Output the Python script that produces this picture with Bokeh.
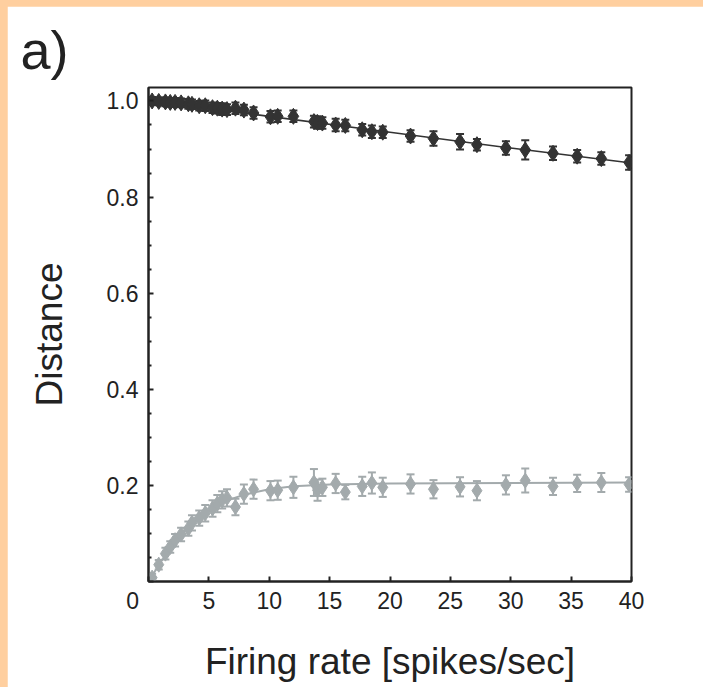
from bokeh.plotting import figure
from bokeh.models import ColumnDataSource, Whisker, TeeHead, Range1d, FixedTicker, GlobalInlineStyleSheet
from bokeh.embed import file_html
from bokeh.resources import INLINE

# ---- data ----
rate = [0.3, 0.85, 1.4, 1.8, 2.2, 2.7, 3.3, 3.6, 4.2, 4.7, 5.3, 5.7, 6.1, 6.5, 7.2, 7.9, 8.7,
        10.1, 10.7, 12.0, 13.7, 14.0, 14.4, 15.5, 16.3, 17.7, 18.5, 19.4, 21.7, 23.6, 25.8,
        27.2, 29.6, 31.2, 33.5, 35.5, 37.5, 39.8]
upper_y = [1.0, 0.999, 0.998, 0.997, 0.997, 0.996, 0.994, 0.993, 0.99, 0.99, 0.986, 0.985,
           0.983, 0.982, 0.985, 0.981, 0.975, 0.967, 0.968, 0.968, 0.957, 0.955, 0.954, 0.95,
           0.949, 0.94, 0.936, 0.935, 0.927, 0.922, 0.915, 0.909, 0.902, 0.898, 0.891, 0.885,
           0.88, 0.872]
upper_err = [0.008, 0.008, 0.009, 0.009, 0.009, 0.009, 0.01, 0.01, 0.01, 0.011, 0.011, 0.011,
             0.012, 0.011, 0.012, 0.011, 0.012, 0.012, 0.012, 0.012, 0.012, 0.013, 0.012, 0.013,
             0.012, 0.012, 0.013, 0.012, 0.012, 0.015, 0.016, 0.012, 0.014, 0.02, 0.014, 0.013,
             0.013, 0.015]
lower_y = [0.008, 0.035, 0.058, 0.072, 0.086, 0.098, 0.11, 0.122, 0.132, 0.142, 0.152, 0.162,
           0.17, 0.174, 0.155, 0.182, 0.192, 0.189, 0.19, 0.196, 0.206, 0.19, 0.196, 0.204,
           0.186, 0.198, 0.205, 0.196, 0.203, 0.192, 0.197, 0.189, 0.201, 0.21, 0.198, 0.204,
           0.206, 0.202]
lower_err = [0.008, 0.01, 0.012, 0.012, 0.013, 0.014, 0.015, 0.016, 0.016, 0.017, 0.017, 0.018,
             0.018, 0.018, 0.017, 0.02, 0.02, 0.02, 0.02, 0.022, 0.028, 0.022, 0.018, 0.02,
             0.015, 0.02, 0.022, 0.02, 0.02, 0.019, 0.02, 0.02, 0.02, 0.025, 0.018, 0.018,
             0.02, 0.015]
upper_fit_x = [0, 10, 20, 30, 40]
upper_fit_y = [1.0, 0.968, 0.935, 0.902, 0.871]
lower_fit_x = [0, 1, 2, 3, 4, 5, 6, 7, 8, 10, 12, 15, 20, 30, 40]
lower_fit_y = [0, 0.04, 0.075, 0.105, 0.13, 0.148, 0.162, 0.173, 0.181, 0.192, 0.198, 0.202,
               0.204, 0.205, 0.206]
x_ticks = [0, 5, 10, 15, 20, 25, 30, 35, 40]
x_tick_labels = {0: "0" + "\u00a0" * 5}   # the shared corner "0", nudged left
y_ticks = [0, 0.2, 0.4, 0.6, 0.8, 1.0]
y_tick_labels = {0: "", 0.2: "0.2", 0.4: "0.4", 0.6: "0.6", 0.8: "0.8", 1.0: "1.0"}

DARK = "#333333"
GREY = "#A3AAAC"
FONT = "Liberation Sans"

p = figure(width=696, height=681, output_backend="svg", toolbar_location=None,
           x_range=Range1d(0, 40), y_range=Range1d(0, 1.028),
           min_border_left=141, min_border_right=72, min_border_top=81, min_border_bottom=106,
           background_fill_color="white", border_fill_color="white")
p.stylesheets = [GlobalInlineStyleSheet(css="html{background:#ffffff;} body{margin:0;padding:6px 0 0 7px;background:#FFCF9F;overflow:hidden;}")]
p.grid.visible = False
p.outline_line_color = "#222222"
p.outline_line_width = 2

# panel letter as title
p.title.text = "a)"
p.title.align = "left"
p.title.offset = -128
p.title.standoff = 15
p.title.text_font = FONT
p.title.text_font_size = "54px"
p.title.text_font_style = "normal"
p.title.text_color = "#222222"

# fit lines
p.line(upper_fit_x, upper_fit_y, line_color=DARK, line_width=1.6)
p.line(lower_fit_x, lower_fit_y, line_color=GREY, line_width=2)

# data with error bars
src_u = ColumnDataSource(dict(x=rate, y=upper_y,
                              lo=[a - b for a, b in zip(upper_y, upper_err)],
                              hi=[a + b for a, b in zip(upper_y, upper_err)]))
src_l = ColumnDataSource(dict(x=rate, y=lower_y,
                              lo=[a - b for a, b in zip(lower_y, lower_err)],
                              hi=[a + b for a, b in zip(lower_y, lower_err)]))

for src, col, msize in ((src_l, GREY, 15), (src_u, DARK, 16)):
    w = Whisker(source=src, base="x", upper="hi", lower="lo", dimension="height",
                line_color=col, line_width=2,
                upper_head=TeeHead(size=8, line_color=col, line_width=2),
                lower_head=TeeHead(size=8, line_color=col, line_width=2))
    p.add_layout(w)
    p.scatter("x", "y", source=src, marker="diamond", size=msize, fill_color=col, line_color=col)

# axes
p.xaxis.ticker = FixedTicker(ticks=x_ticks)
p.xaxis.major_label_overrides = x_tick_labels
p.yaxis.ticker = FixedTicker(ticks=y_ticks,
                             minor_ticks=[0.05, 0.1, 0.15, 0.25, 0.3, 0.35, 0.45, 0.5, 0.55,
                                          0.65, 0.7, 0.75, 0.85, 0.9, 0.95])
p.yaxis.major_label_overrides = y_tick_labels
for ax in (p.xaxis[0], p.yaxis[0]):
    ax.axis_line_color = "#222222"
    ax.axis_line_width = 2
    ax.major_tick_in = 5
    ax.major_tick_out = 0
    ax.minor_tick_in = 3
    ax.minor_tick_out = 0
    ax.major_tick_line_color = "#222222"
    ax.major_tick_line_width = 2
    ax.minor_tick_line_color = "#222222"
    ax.minor_tick_line_width = 2
    ax.major_label_text_font = FONT
    ax.major_label_text_font_size = "23px"
    ax.major_label_text_color = "#222222"
    ax.axis_label_text_font = FONT
    ax.axis_label_text_font_size = "37px"
    ax.axis_label_text_font_style = "normal"
    ax.axis_label_text_color = "#222222"
p.xaxis.minor_tick_line_color = None
p.xaxis.major_label_standoff = 6
p.yaxis.major_label_standoff = 10
p.xaxis.axis_label = "Firing rate [spikes/sec]"
p.yaxis.axis_label = "Distance"
p.xaxis.axis_label_standoff = 24
p.yaxis.axis_label_standoff = 34

open("out.html", "w").write(file_html(p, INLINE))
